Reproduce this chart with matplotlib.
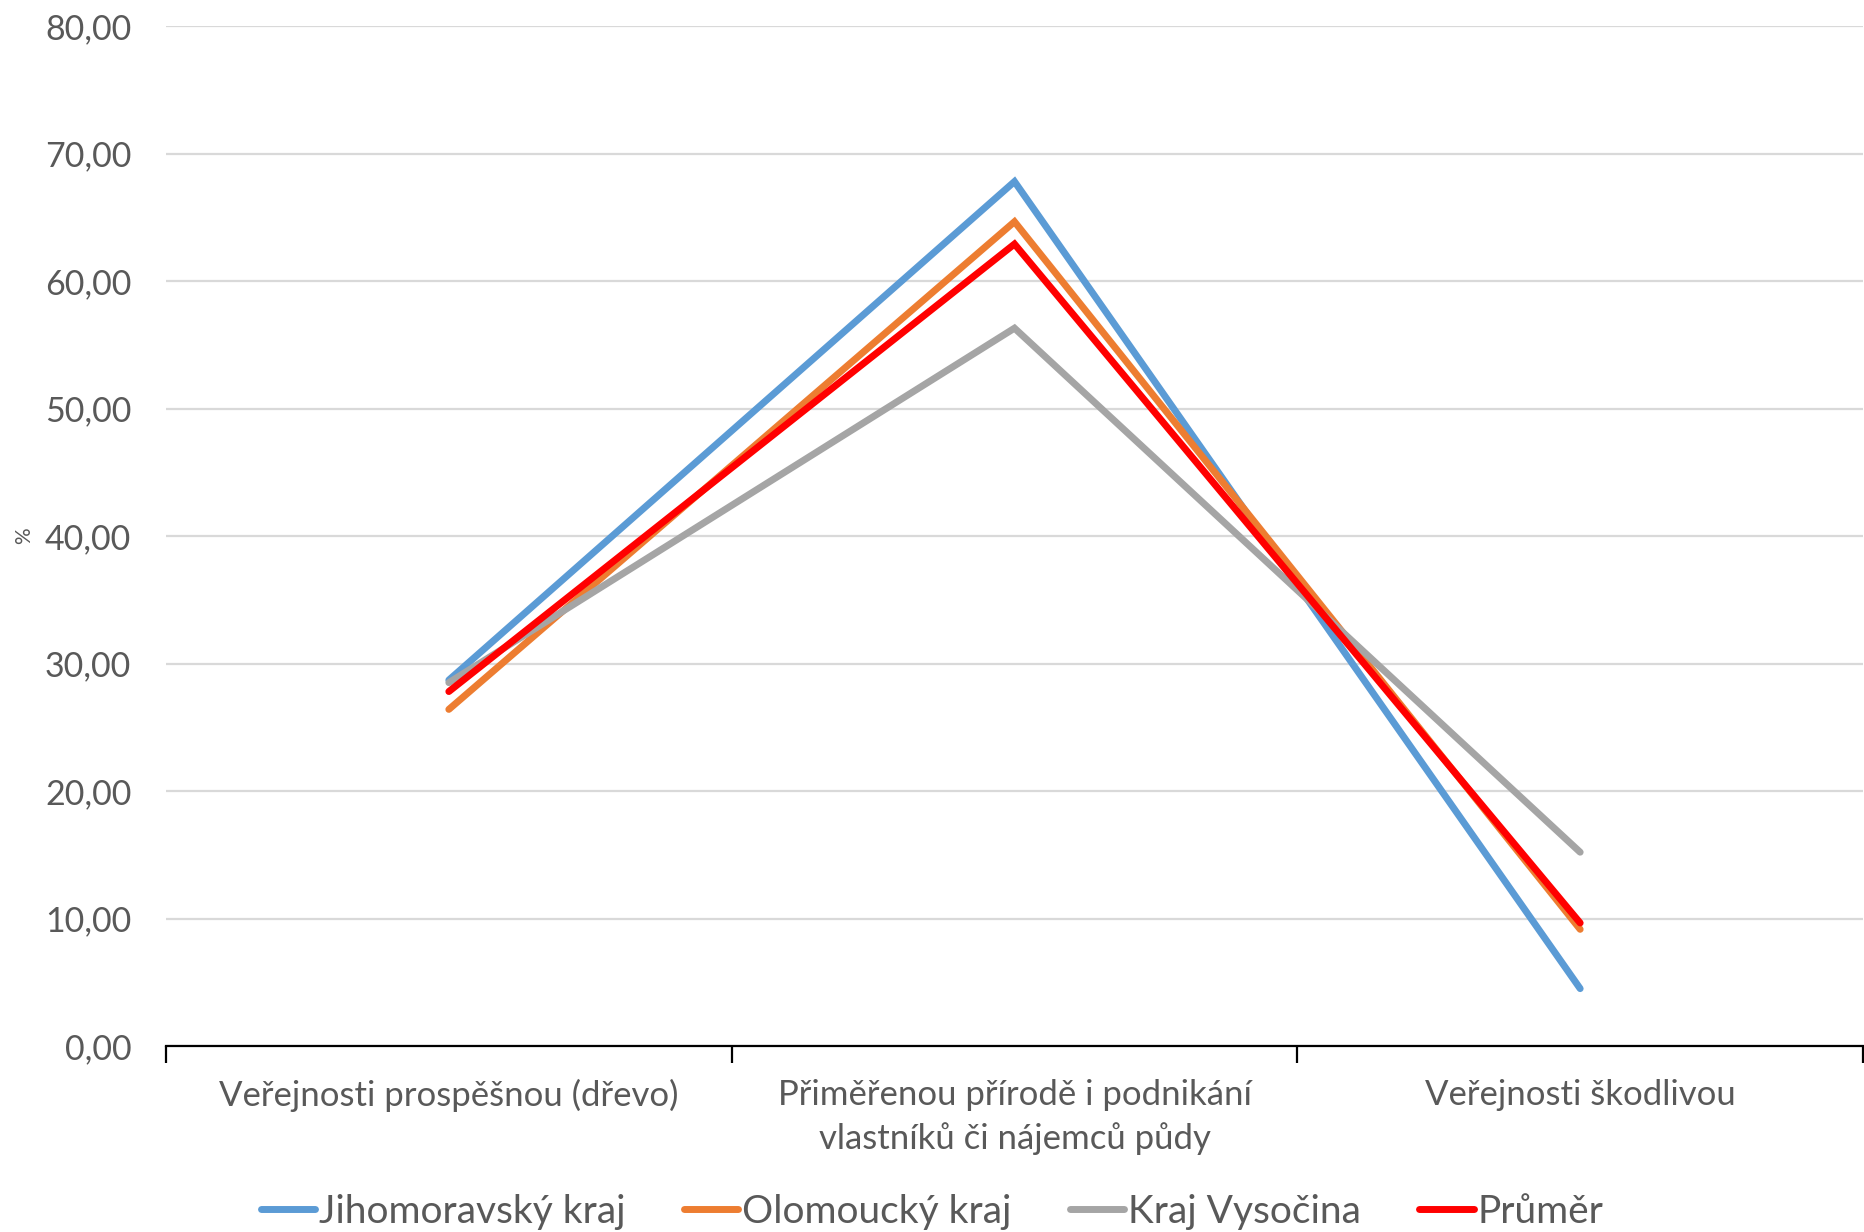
import matplotlib
matplotlib.use("Agg")
import matplotlib.pyplot as plt
from matplotlib.ticker import FixedLocator, FuncFormatter

plt.rcParams['font.family'] = ['Lato', 'DejaVu Sans']

categories = ["Veřejnosti prospěšnou (dřevo)",
              "Přiměřenou přírodě i podnikání\nvlastníků či nájemců půdy",
              "Veřejnosti škodlivou"]
series_names = ["Jihomoravský kraj", "Olomoucký kraj", "Kraj Vysočina", "Průměr"]
jihomoravsky = [28.7, 67.8, 4.5]
olomoucky = [26.4, 64.65, 9.15]
vysocina = [28.5, 56.3, 15.2]
prumer = [27.8, 62.9, 9.65]
colors = ["#5B9BD5", "#ED7D31", "#A5A5A5", "#FF0000"]
yticks = [0, 10, 20, 30, 40, 50, 60, 70, 80]

fig = plt.figure(figsize=(18.64, 12.32), dpi=100)
ax = fig.add_axes([166/1864, 1 - 1046/1232, (1863-166)/1864, (1046-26)/1232])

x = list(range(len(categories)))
for name, vals, c in zip(series_names, [jihomoravsky, olomoucky, vysocina, prumer], colors):
    ax.plot(x, vals, color=c, lw=5.0, solid_capstyle='round', solid_joinstyle='miter', label=name)

ax.set_xlim(-0.5, len(categories) - 0.5)
ax.set_ylim(0, 80)
ax.set_yticks(yticks)
ax.yaxis.set_major_formatter(FuncFormatter(lambda v, p: f"{v:.2f}".replace('.', ',')))
ax.grid(axis='y', color='#D9D9D9', lw=1.6)
ax.set_axisbelow(True)
for s in ['top', 'right', 'left']:
    ax.spines[s].set_visible(False)
ax.spines['bottom'].set_color('black')
ax.spines['bottom'].set_linewidth(1.6)
ax.spines['bottom'].set_zorder(5)

ax.tick_params(axis='y', length=0, pad=25, labelsize=24.5, labelcolor='#595959')
ax.xaxis.set_major_locator(FixedLocator([i - 0.5 for i in range(len(categories) + 1)]))
ax.xaxis.set_major_formatter(FuncFormatter(lambda v, p: ""))
ax.xaxis.set_minor_locator(FixedLocator(x))
ax.set_xticklabels(categories, minor=True)
ax.tick_params(axis='x', which='major', direction='out', length=12, width=1.6, color='black')
ax.tick_params(axis='x', which='minor', length=0, pad=24, labelsize=25, labelcolor='#595959')
for t in ax.xaxis.get_minorticklabels():
    t.set_linespacing(1.4)

ax.set_ylabel("%", fontsize=15, color='#595959')
ax.yaxis.set_label_coords(-0.078, 0.5)

leg = fig.legend(loc='center', bbox_to_anchor=(0.5, 1 - 1212/1232), ncol=4, frameon=False,
                 fontsize=28, handlelength=1.4, handletextpad=0.1, columnspacing=1.5,
                 labelcolor='#595959')
for line in leg.get_lines():
    line.set_linewidth(5)

fig.savefig("out.png", dpi=100)
